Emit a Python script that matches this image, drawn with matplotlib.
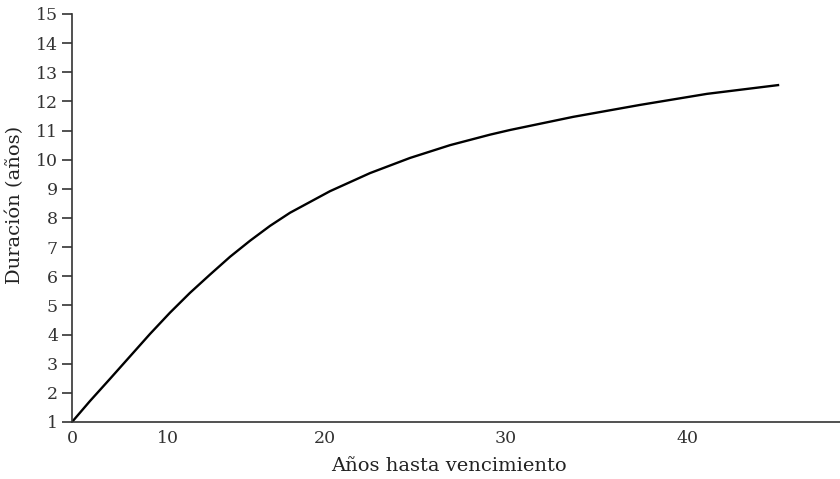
import matplotlib.pyplot as plt

# curve (x in axis units, duration in years)
maturity = [0, 1.17, 2.47, 3.77, 5.07, 6.37, 7.67, 8.98, 10.28, 11.58, 12.88,
            14.18, 16.78, 19.38, 21.98, 24.59, 27.19, 28.49, 32.59, 36.94,
            41.30, 45.92]
duration = [1.0, 1.72, 2.48, 3.25, 4.02, 4.75, 5.43, 6.06, 6.67, 7.22, 7.73,
            8.18, 8.92, 9.54, 10.06, 10.50, 10.86, 11.02, 11.47, 11.88,
            12.26, 12.56]

# x tick labels sit where they are printed in the original
xtick_pos = [0, 6.24, 16.46, 28.23, 40]
xtick_labels = ['0', '10', '20', '30', '40']
ytick_vals = list(range(1, 16))

plt.rcParams['font.family'] = ['DejaVu Serif']

fig = plt.figure(figsize=(8.4, 4.79), dpi=100)
ax = fig.add_axes([72 / 840, 1 - 422 / 479, 1 - 72 / 840, (422 - 14) / 479])

ax.plot(maturity, duration, color='black', linewidth=1.7,
        solid_joinstyle='round')

ax.set_xlim(0, 49.95)
ax.set_ylim(1, 15)
ax.set_xticks(xtick_pos)
ax.set_xticklabels(xtick_labels)
ax.set_yticks(ytick_vals)

ax.spines['top'].set_visible(False)
ax.spines['right'].set_visible(False)
for side in ['left', 'bottom']:
    ax.spines[side].set_color('#333333')
    ax.spines[side].set_linewidth(1.2)

ax.tick_params(axis='x', length=0, pad=6, labelsize=12.5, colors='#333333')
ax.tick_params(axis='y', length=7, width=1.2, pad=3, labelsize=12.5,
               colors='#333333')

ax.set_xlabel('Años hasta vencimiento', fontsize=14, color='#222222')
ax.set_ylabel('Duración (años)', fontsize=14, color='#222222')
ax.xaxis.set_label_coords(0.491, -0.087)
ax.yaxis.set_label_coords(-0.063, 0.532)

fig.savefig('out.png', dpi=100)
